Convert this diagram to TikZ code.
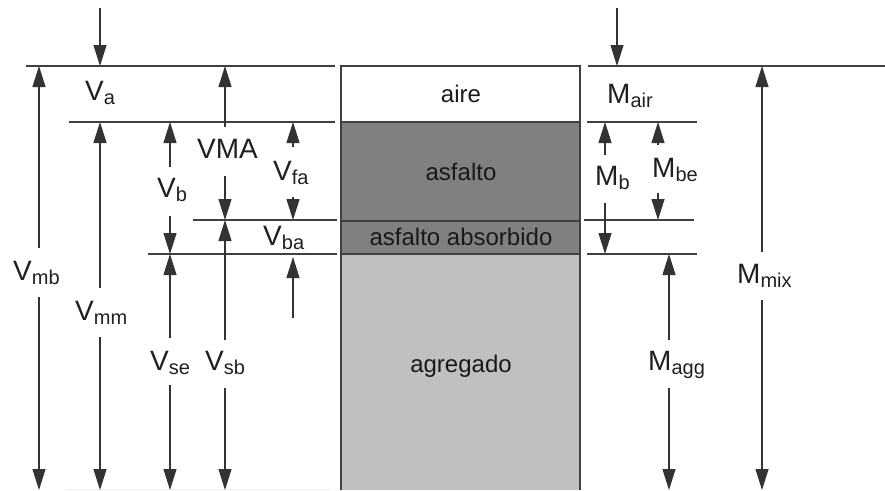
\documentclass[tikz,border=0pt]{standalone}
\usepackage{fontspec}
\setmainfont{Liberation Sans}
\usetikzlibrary{arrows.meta}
\newcommand\lbl[2]{#1\raisebox{-4.5pt}{\fontsize{20}{22}\selectfont #2}}
\definecolor{asfgray}{HTML}{808080}
\definecolor{agggray}{HTML}{C0C0C0}
\begin{document}
\begin{tikzpicture}[x=1pt,y=-1pt,
 ln/.style={draw=black!75, line width=1.2pt},
 dim/.style={draw=black!80, line width=1.1pt, -{Triangle[length=21pt,width=13pt]}},
 lab/.style={anchor=base west, inner sep=0, font=\fontsize{28}{30}\selectfont, text=black!88},
 boxtxt/.style={anchor=base, inner sep=0, font=\fontsize{24}{26}\selectfont, text=black!90}]
\useasboundingbox (0,0) rectangle (885,490);
% column
\fill[white] (341,66) rectangle (580,122);
\fill[asfgray] (341,122) rectangle (580,254);
\fill[agggray] (341,254) rectangle (580,490);
\draw[ln] (341,490) -- (341,66) -- (580,66) -- (580,490);
\draw[ln] (341,122) -- (580,122);
\draw[ln] (341,221) -- (580,221);
\draw[ln] (341,254) -- (580,254);
\node[boxtxt] (aire) at (461,102) {aire};
\node[boxtxt] (asf) at (461,180) {asfalto};
\node[boxtxt] (abs) at (461,245) {asfalto absorbido};
\node[boxtxt] (agg) at (461,372) {agregado};
% left reference lines
\draw[ln] (26,66) -- (335,66);
\draw[ln] (69,122) -- (335,122);
\draw[ln] (193,220) -- (337,220);
\draw[ln] (148,254) -- (337,254);
\draw[draw=black!8, line width=1pt] (67,489) -- (330,489);
% right reference lines
\draw[ln] (588,66) -- (885,66);
\draw[ln] (587,122) -- (697,122);
\draw[ln] (584,220) -- (694,220);
\draw[ln] (587,254) -- (697,254);
% left labels
\node[lab] (Va) at (85,100) {\lbl{V}{a}};
\node[lab] (VMA) at (197,158) {VMA};
\node[lab] (Vfa) at (273,180) {\lbl{V}{fa}};
\node[lab] (Vb) at (157,197) {\lbl{V}{b}};
\node[lab] (Vba) at (263,245) {\lbl{V}{ba}};
\node[lab] (Vmb) at (13,280) {\lbl{V}{mb}};
\node[lab] (Vmm) at (75,320) {\lbl{V}{mm}};
\node[lab] (Vse) at (150,370) {\lbl{V}{se}};
\node[lab] (Vsb) at (205,370) {\lbl{V}{sb}};
% right labels
\node[lab] (Mair) at (607,103) {\lbl{M}{air}};
\node[lab] (Mb) at (595,185) {\lbl{M}{b}};
\node[lab] (Mbe) at (652,177) {\lbl{M}{be}};
\node[lab] (Magg) at (648,370) {\lbl{M}{agg}};
\node[lab] (Mmix) at (737,283) {\lbl{M}{mix}};
% left dimension arrows
\draw[dim] (100,8) -- (100,66);
\draw[dim] (39,248) -- (39,66);
\draw[dim] (39,297) -- (39,490);
\draw[dim] (100,288) -- (100,122);
\draw[dim] (100,337) -- (100,490);
\draw[dim] (225,127) -- (225,66);
\draw[dim] (225,176) -- (225,220);
\draw[dim] (225,340) -- (225,220);
\draw[dim] (225,388) -- (225,490);
\draw[dim] (170,167) -- (170,122);
\draw[dim] (170,216) -- (170,254);
\draw[dim] (170,338) -- (170,254);
\draw[dim] (170,385) -- (170,490);
\draw[dim] (293,147) -- (293,122);
\draw[dim] (293,197) -- (293,220);
\draw[dim] (293,318) -- (293,257);
% right dimension arrows
\draw[dim] (617,8) -- (617,66);
\draw[dim] (605,155) -- (605,122);
\draw[dim] (605,203) -- (605,254);
\draw[dim] (658,145) -- (658,122);
\draw[dim] (658,193) -- (658,220);
\draw[dim] (669,340) -- (669,254);
\draw[dim] (669,388) -- (669,490);
\draw[dim] (762,252) -- (762,66);
\draw[dim] (762,300) -- (762,490);
\end{tikzpicture}
\end{document}
